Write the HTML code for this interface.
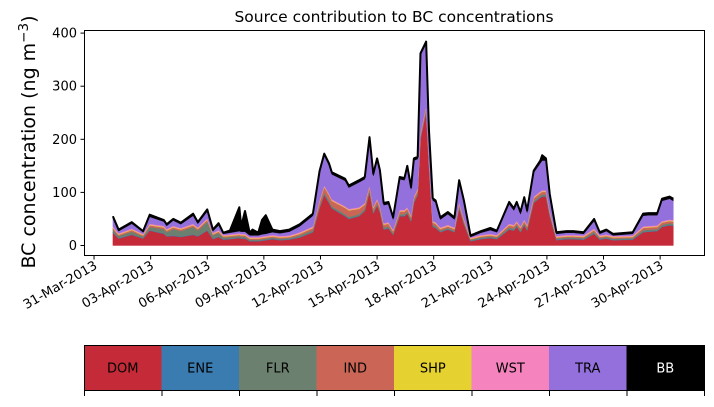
<!DOCTYPE html>
<html><head><meta charset="utf-8"><style>
body{margin:0;background:#fff;}
svg text{font-family:"DejaVu Sans","Liberation Sans",sans-serif;}
</style></head><body>
<svg id="chart" width="714" height="402" viewBox="0 0 714 402" xmlns="http://www.w3.org/2000/svg">
<text x="394" y="22" font-size="15.5" text-anchor="middle">Source contribution to BC concentrations</text>
<text transform="translate(35,142) rotate(-90)" font-size="19" text-anchor="middle">BC concentration (ng m<tspan dy="-7" font-size="13.5">−3</tspan><tspan dy="7">)</tspan></text>
<g id="stack"></g>
<g id="axes"></g>
<rect x="84.5" y="30.5" width="620" height="225" fill="none" stroke="#000" stroke-width="1"/>
<g id="cbar"></g>
</svg>
<script>
const days=[0,0.3,1.0,1.6,1.95,2.7,2.85,3.2,3.6,4.25,4.5,5.0,5.3,5.6,5.85,6.2,6.7,6.8,7.0,7.25,7.4,7.7,7.9,8.1,8.45,8.85,9.35,9.9,10.6,10.95,11.2,11.45,11.6,12.3,12.5,13.05,13.35,13.6,13.8,14.0,14.15,14.35,14.6,14.85,15.2,15.45,15.6,15.8,15.95,16.15,16.3,16.6,16.75,16.95,17.1,17.35,17.75,18.1,18.35,18.6,18.95,19.5,20.0,20.35,21.0,21.25,21.4,21.6,21.8,21.95,22.3,22.65,22.75,22.95,23.15,23.5,24.05,24.4,24.95,25.5,25.8,26.15,26.5,27.55,28.1,28.4,28.85,29.1,29.5,29.7];
const DOM=[24,13,20,13,28,22,17,18,16,20,17,28,12,16,11,12,14,13,13,8,8,8,9,10,12,10,11,15,25,70,95,80,70,55,50,55,65,100,60,75,62,30,32,20,55,55,60,45,80,95,200,250,150,35,33,25,30,25,70,40,8,12,14,12,30,28,35,25,38,28,80,90,92,92,55,10,12,12,11,22,11,13,10,11,25,26,27,35,38,37];
const ENE=[1,1,1,1,1,1,1,1,1,1,1,1,1,1,1,1,1,1,1,1,1,1,1,1,1,1,1,1,1,1,1,1,1,1,1,1,1,1,1,1,1,1,1,1,1,1,1,1,1,1,1,1,1,1,1,1,1,1,1,1,1,1,1,1,1,1,1,1,1,1,1,1,1,1,1,1,1,1,1,1,1,1,1,1,1,1,1,1,1,1];
const FLR=[5,4,5,3,6,8,7,12,10,14,10,16,6,7,3,3,3,3,3,2,2,2,2,2,2,2,2,3,3,3,4,4,3,3,3,3,3,3,3,3,3,3,3,2,3,3,3,3,3,3,3,3,3,3,3,2,2,2,3,3,2,2,2,2,3,3,3,3,3,3,3,3,3,3,3,2,2,2,2,3,2,2,2,2,3,3,3,3,3,3];
const IND=[3,2,3,2,3,3,3,3,3,3,3,3,2,2,2,2,2,2,2,2,2,2,2,2,2,2,2,3,4,8,10,10,10,12,12,10,8,6,6,6,6,5,5,4,5,5,5,5,5,5,6,6,5,4,4,3,3,3,4,4,1,2,2,2,4,4,4,4,4,4,5,5,5,5,4,2,2,2,2,3,2,2,2,2,4,4,4,4,4,4];
const SHP=[1,1,1,1,1,1,1,1,1,1,1,1,1,1,1,1,1,1,1,1,1,1,1,1,1,1,1,1,1,1,1,1,1,1,1,1,1,1,1,1,1,1,1,1,1,1,1,1,1,1,1,1,1,1,1,1,1,1,1,1,1,1,1,1,1,1,1,1,1,1,1,1,1,1,1,1,1,1,1,1,1,1,1,1,1,1,1,1,1,1];
const WST=[2,2,2,2,2,2,2,2,2,2,2,2,2,2,2,2,2,2,2,2,2,2,2,2,2,2,2,2,2,2,2,2,2,2,2,2,2,2,2,2,2,2,2,2,2,2,2,2,2,2,2,2,2,2,2,2,2,2,2,2,2,2,2,2,2,2,2,2,2,2,2,2,2,2,2,2,2,2,2,2,2,2,2,2,2,2,2,2,2,2];
const TRA=[15,4,9,3,13,8,6,10,7,15,7,13,3,9,2,3,4,4,4,3,3,3,4,4,5,5,7,11,20,51,56,53,47,48,40,47,45,87,58,72,63,34,34,19,58,56,74,49,68,56,145,117,51,39,37,15,20,15,38,30,1,4,7,5,37,27,32,23,38,23,45,53,56,56,27,4,4,4,3,14,3,6,1,3,20,20,19,38,39,36];
const BB=[4,3,3,2,4,3,3,3,3,4,3,4,3,4,2,4,45,10,39,5,11,5,27,35,5,4,4,4,4,4,4,4,4,4,4,4,4,4,4,4,4,4,4,4,4,4,4,4,4,4,4,4,4,4,4,4,4,4,4,4,3,3,4,3,4,4,4,4,4,4,4,5,10,4,4,3,3,3,3,4,3,3,3,3,4,4,4,4,4,4];
const seriesNames=["DOM","ENE","FLR","IND","SHP","WST","TRA","BB"];
const seriesColors=["#c52a38","#3a7bb0","#6c8070","#cb6656","#e5d12f","#f483be","#9370db","#000000"];
const yTicks=[0,100,200,300,400];
const xTickLabels=["31-Mar-2013","03-Apr-2013","06-Apr-2013","09-Apr-2013","12-Apr-2013","15-Apr-2013","18-Apr-2013","21-Apr-2013","24-Apr-2013","27-Apr-2013","30-Apr-2013"];
const xTickDays=[-1,2,5,8,11,14,17,20,23,26,29];

const NS="http://www.w3.org/2000/svg";
function X(d){return 112.9+d*18.87;}
function Y(v){return 245.5-v*0.531;}
function mk(tag,attrs,parent){const e=document.createElementNS(NS,tag);for(const k in attrs)e.setAttribute(k,attrs[k]);parent.appendChild(e);return e;}

const all=[DOM,ENE,FLR,IND,SHP,WST,TRA,BB];
const stack=document.getElementById('stack');
let base=days.map(()=>0);
all.forEach((s,i)=>{
  const top=base.map((b,j)=>b+s[j]);
  let d="M"+days.map((t,j)=>X(t).toFixed(2)+","+Y(top[j]).toFixed(2)).join(" L");
  for(let j=days.length-1;j>=0;j--)d+=" L"+X(days[j]).toFixed(2)+","+Y(base[j]).toFixed(2);
  d+=" Z";
  const p=mk('path',{d:d,fill:seriesColors[i],stroke:seriesColors[i],'stroke-width':0.4},stack);
  
  
  base=top;
});
const tl=mk('path',{d:"M"+days.map((t,j)=>X(t).toFixed(2)+","+Y(base[j]).toFixed(2)).join(" L"),fill:'none',stroke:'#000','stroke-width':2,'stroke-linejoin':'round'},stack);



const axes=document.getElementById('axes');
yTicks.forEach(v=>{
  const l=mk('line',{x1:80.5,x2:84.5,y1:Y(v),y2:Y(v),stroke:'#000'},axes);
  
  
  const t=mk('text',{x:77,y:Y(v)+4.5,'font-size':13,'text-anchor':'end'},axes);
  t.textContent=v;
  
  
});
xTickDays.forEach((d,i)=>{
  const x=X(d);
  const l=mk('line',{x1:x,x2:x,y1:255.5,y2:259.5,stroke:'#000'},axes);
  
  
  const t=mk('text',{x:0,y:0,'font-size':13,'text-anchor':'end',transform:'translate('+(x+4)+',268) rotate(-30)'},axes);
  t.textContent=xTickLabels[i];
  
  
});

const cb=document.getElementById('cbar');
const w=620/8;
seriesNames.forEach((n,i)=>{
  const x=84+i*w;
  const r=mk('rect',{x:x,y:345,width:w+0.5,height:46,fill:seriesColors[i]},cb);
  
  
  const t=mk('text',{x:x+w/2,y:372.5,'font-size':13,'text-anchor':'middle',fill:n==="BB"?"#fff":"#000"},cb);
  t.textContent=n;
  
  
});
mk('rect',{x:84.5,y:345.5,width:620,height:45,fill:'none',stroke:'#000','stroke-width':1},cb);
for(let i=0;i<=8;i++){
  const x=84.5+i*w;
  const l=mk('line',{x1:x,x2:x,y1:391,y2:396,stroke:'#000'},cb);
  
  
}
</script>
</body></html>
